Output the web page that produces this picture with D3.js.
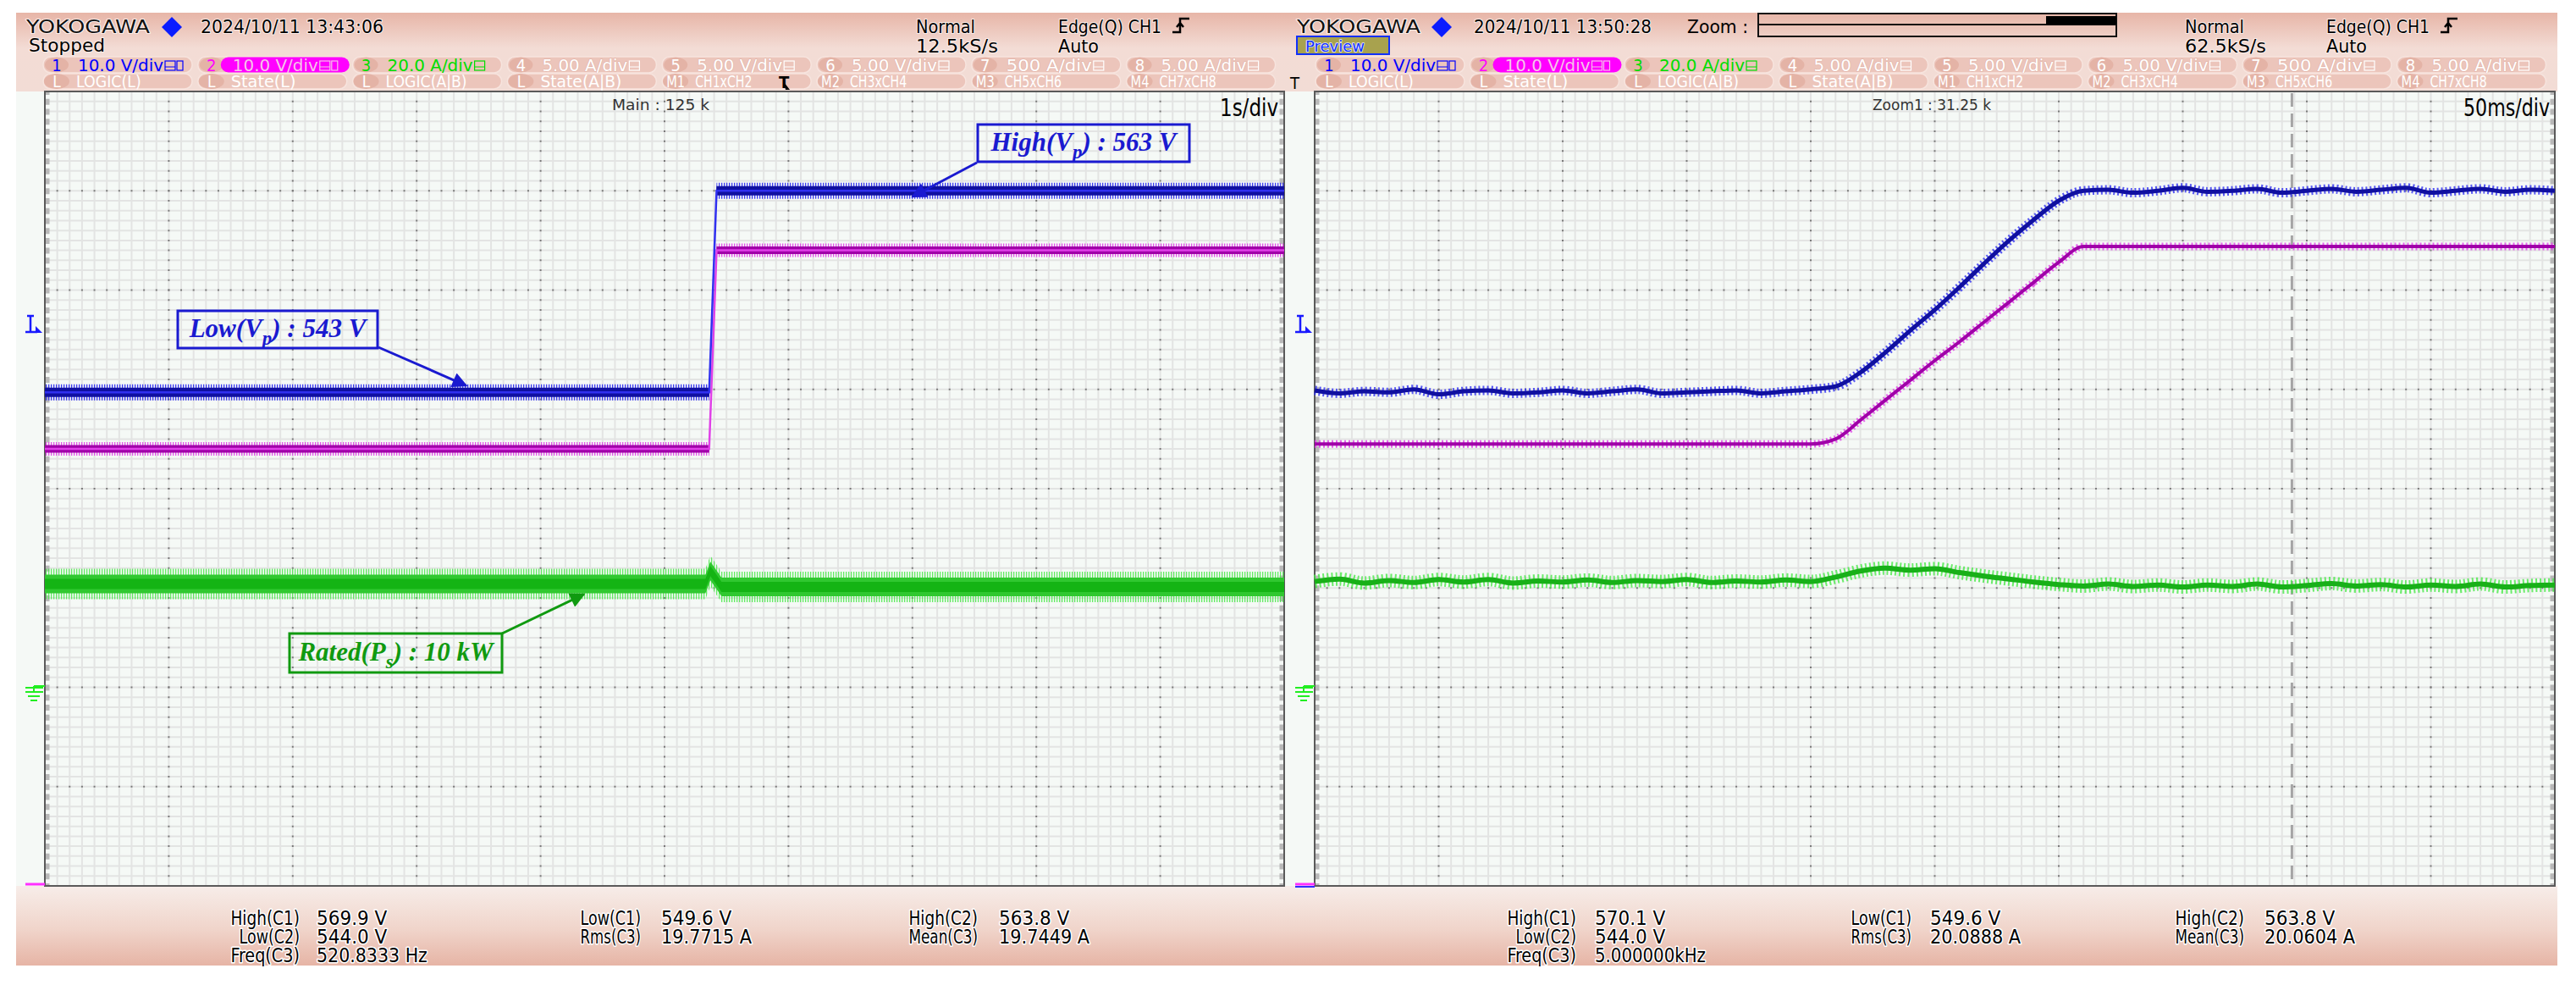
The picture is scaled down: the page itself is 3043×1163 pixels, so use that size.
<!DOCTYPE html>
<html><head><meta charset="utf-8">
<script src="https://cdn.jsdelivr.net/npm/d3@7"></script>
<style>body{margin:0;background:#fff}svg{display:block}</style>
</head><body><svg id="c" width="3043" height="1163"></svg>
<script>
// ---------------- DATA ----------------
// Left screen (Main, 1 s/div, 10 divisions)
const leftTime  = [0, 5.36, 5.42, 10];            // s
const leftCh1   = [543.0, 543.0, 563.3, 563.3];   // V  (blue, V_p)
const leftCh2   = [544.0, 544.0, 564.0, 564.0];   // V  (magenta)
const leftCh3Time = [0, 5.33, 5.37, 5.41, 5.46, 10];
const leftCh3   = [20.8, 20.8, 23.4, 22.0, 20.2, 20.2]; // A (green)

// Right screen (Zoom1, 50 ms/div)
const rightTime = [0,10,20,30,40,50,60,70,80,90,100,110,120,130,140,150,160,170,180,190,200,
  210,220,230,240,250,260,270,280,290,300,310,320,330,340,350,360,370,380,390,400,
  410,420,430,440,450,460,470,480,490,500]; // ms
const rightCh1 = [543.2,542.9,543.1,543.0,543.3,542.8,543.1,543.2,542.9,543.0,543.2,542.9,543.1,543.3,542.9,543.0,543.1,543.2,542.9,543.1,543.3,
  543.6,545.0,547.0,549.2,551.3,553.6,556.0,558.3,560.4,562.3,563.3,563.4,563.1,563.3,563.6,563.2,563.3,563.5,563.1,563.3,
  563.5,563.2,563.4,563.6,563.1,563.3,563.5,563.2,563.4,563.3];
const rightCh2 = [544.5,544.5,544.5,544.5,544.5,544.5,544.5,544.5,544.5,544.5,544.5,544.5,544.5,544.5,544.5,544.5,544.5,544.5,544.5,544.5,544.5,
  545.0,546.9,548.9,550.9,552.9,554.8,556.8,558.8,560.8,562.8,564.4,564.4,564.4,564.4,564.4,564.4,564.4,564.4,564.4,564.4,
  564.4,564.4,564.4,564.4,564.4,564.4,564.4,564.4,564.4,564.4];
const rightCh3 = [21.3,21.8,21.0,21.5,21.1,21.7,21.2,21.7,21.0,21.4,21.2,21.6,21.1,21.5,21.3,21.7,21.1,21.4,21.2,21.6,21.3,
  22.2,23.4,24.0,23.6,23.9,23.1,22.4,21.8,21.2,20.7,20.4,20.8,20.3,20.6,20.2,20.6,20.3,20.8,20.2,20.5,
  20.9,20.4,20.7,20.2,20.6,20.3,20.8,20.2,20.5,20.6];
const zoomCursor = 394; // ms

// Channel ranges (value at bottom / top of 8-division screen)
const ch1Range = [493.3, 573.3];  // 10 V/div
const ch2Range = [500.0, 580.0];  // 10 V/div
const ch3Range = [-40, 120];      // 20 A/div

// Header info
const headers = [
  {date:"2024/10/11 13:43:06", mode:"Normal", rate:"12.5kS/s", trig:"Edge(Q) CH1", trigMode:"Auto", state:"Stopped",
   label:"Main : 125 k", tdiv:"1s/div"},
  {date:"2024/10/11 13:50:28", mode:"Normal", rate:"62.5kS/s", trig:"Edge(Q) CH1", trigMode:"Auto", state:"Preview",
   label:"Zoom1 : 31.25 k", tdiv:"50ms/div"}
];
const tabRow1 = [["1","10.0 V/div"],["2","10.0 V/div"],["3","20.0 A/div"],["4","5.00 A/div"],
                 ["5","5.00 V/div"],["6","5.00 V/div"],["7"," 500 A/div"],["8","5.00 A/div"]];
const tabRow2 = [["L","LOGIC(L)"],["L","State(L)"],["L","LOGIC(A|B)"],["L","State(A|B)"],
                 ["M1","CH1xCH2"],["M2","CH3xCH4"],["M3","CH5xCH6"],["M4","CH7xCH8"]];
const measLeft = [[["High(C1)","569.9 V"],["Low(C1)","549.6 V"],["High(C2)","563.8 V"]],
                  [["Low(C2)","544.0 V"],["Rms(C3)","19.7715 A"],["Mean(C3)","19.7449 A"]],
                  [["Freq(C3)","520.8333 Hz"]]];
const measRight = [[["High(C1)","570.1 V"],["Low(C1)","549.6 V"],["High(C2)","563.8 V"]],
                   [["Low(C2)","544.0 V"],["Rms(C3)","20.0888 A"],["Mean(C3)","20.0604 A"]],
                   [["Freq(C3)","5.000000kHz"]]];
const annotations = [
  {pre:"Low(V", sub:"p", post:") : 543 V", ch:1, t:3.4, v:543.0},
  {pre:"High(V", sub:"p", post:") : 563 V", ch:1, t:7.0, v:563.3},
  {pre:"Rated(P", sub:"s", post:") : 10 kW", ch:3, t:4.35, v:20.8}
];

// ---------------- STYLE / LAYOUT ----------------
const COL = {blue:"#1010a0", blueL:"#3030f0", mag:"#a000a8", magL:"#e040e8", grn:"#14b414", grnL:"#48e848"};
const NARROW = "'Liberation Sans Narrow','DejaVu Sans Condensed','Roboto Condensed','Liberation Sans',Arial,sans-serif";
const SERIF = "'Liberation Serif','DejaVu Serif','Times New Roman',serif";
const panels = [
  {x0:19, x1:1521, gx0:53, gx1:1517},
  {x0:1521, x1:3021, gx0:1553, gx1:3018}
];
const GY0 = 108, GY1 = 1046, HY0 = 15, FY1 = 1140;

const svg = d3.select('#c');
const defs = svg.append('defs');
function grad(id, stops){
  const g = defs.append('linearGradient').attr('id',id).attr('x1',0).attr('y1',0).attr('x2',0).attr('y2',1);
  stops.forEach(s=>g.append('stop').attr('offset',s[0]).attr('stop-color',s[1]));
}
grad('hdr',[["0%","#e7b5a7"],["45%","#f3dcd5"],["100%","#f2dcd5"]]);
grad('ftr',[["0%","#f7ede9"],["55%","#f0d4ca"],["100%","#e6b4a5"]]);
function stripes(id,color){
  const p = defs.append('pattern').attr('id',id).attr('patternUnits','userSpaceOnUse').attr('width',3).attr('height',4);
  p.append('rect').attr('x',0).attr('y',0).attr('width',1.3).attr('height',4).attr('fill',color);
}
stripes('stB',COL.blueL); stripes('stM',COL.magL); stripes('stG',COL.grnL);
function arrowMarker(id,color){
  defs.append('marker').attr('id',id).attr('viewBox','0 0 10 10').attr('refX',9).attr('refY',5)
    .attr('markerWidth',7).attr('markerHeight',6).attr('markerUnits','strokeWidth').attr('orient','auto')
    .append('path').attr('d','M0,0 L10,5 L0,10 Z').attr('fill',color);
}
arrowMarker('arB','#1a1ad0'); arrowMarker('arG','#109a10');

function txt(g,x,y,s,o={}){
  const t = g.append('text').attr('x',x).attr('y',y).text(s)
    .attr('font-family',o.family||NARROW).attr('font-size',o.size||22)
    .attr('fill',o.fill||'#000').attr('text-anchor',o.anchor||'start');
  if(o.len) t.attr('textLength',o.len).attr('lengthAdjust','spacingAndGlyphs');
  if(o.halo) t.attr('stroke',o.halo).attr('stroke-width',o.hw||3).attr('paint-order','stroke').attr('stroke-linejoin','round');
  if(o.weight) t.attr('font-weight',o.weight);
  if(o.style) t.attr('font-style',o.style);
  return t;
}

// ---------------- PANELS ----------------
panels.forEach((P,pi)=>{
  const g = svg.append('g');
  const H = headers[pi];
  g.append('rect').attr('x',P.x0).attr('y',HY0).attr('width',P.x1-P.x0).attr('height',GY0-HY0).attr('fill','url(#hdr)');
  g.append('rect').attr('x',P.x0).attr('y',GY0).attr('width',P.x1-P.x0).attr('height',GY1-GY0).attr('fill','#f5f9f6');
  g.append('rect').attr('x',P.x0).attr('y',GY1).attr('width',P.x1-P.x0).attr('height',FY1-GY1).attr('fill','url(#ftr)');

  // header texts
  const HS = 22;
  txt(g, pi===0?31:1532, 39, "YOKOGAWA", {size:HS, len:146, fill:'#111', halo:'#fbeeea', hw:2});
  const dcx = pi===0?203:1703;
  g.append('path').attr('d',`M${dcx},20 L${dcx+12},32 L${dcx},44 L${dcx-12},32 Z`).attr('fill','#0a1cff');
  txt(g, pi===0?237:1741, 39, H.date, {size:HS, len:pi===0?216:210, halo:'#fbeeea', hw:2});
  if(pi===0){
    txt(g, 34, 61, H.state, {size:HS, len:90, halo:'#fbeeea', hw:2});
  } else {
    g.append('rect').attr('x',1532).attr('y',43).attr('width',109).attr('height',21).attr('fill','#a8a24e').attr('stroke','#1030ff').attr('stroke-width',2);
    txt(g, 1542, 61, H.state, {size:18, len:70, fill:'#1030ff', halo:'#e8e8ff', hw:1.5});
    txt(g, 1993, 39, "Zoom :", {size:HS, len:72});
    g.append('rect').attr('x',2077).attr('y',16).attr('width',423).attr('height',27).attr('fill','none').attr('stroke','#111').attr('stroke-width',2);
    g.append('line').attr('x1',2077).attr('x2',2500).attr('y1',29).attr('y2',29).attr('stroke','#111').attr('stroke-width',2);
    g.append('rect').attr('x',2417).attr('y',19).attr('width',83).attr('height',10).attr('fill','#000');
  }
  const mX = pi===0?1082:2581, tX = pi===0?1250:2748;
  txt(g, mX, 39, H.mode, {size:HS, len:70, halo:'#fbeeea', hw:2});
  txt(g, mX, 62, H.rate, {size:HS, len:pi===0?97:96, halo:'#fbeeea', hw:2});
  txt(g, tX, 39, H.trig, {size:HS, len:122, halo:'#fbeeea', hw:2});
  txt(g, tX, 62, H.trigMode, {size:HS, len:48, halo:'#fbeeea', hw:2});
  const ex = tX+135;
  g.append('path').attr('d',`M${ex},38 L${ex+9},38 L${ex+9},22 L${ex+20},22 M${ex+5},32 L${ex+9},27 L${ex+13},32`)
    .attr('fill','none').attr('stroke','#000').attr('stroke-width',2.5).attr('stroke-linejoin','miter');

  // channel tabs
  const tab0 = pi===0?51:1554, tabStep = pi===0?182.8:182.5;
  tabRow1.forEach((tb,i)=>{
    const x = tab0 + i*tabStep;
    g.append('rect').attr('x',x).attr('y',67).attr('width',176).attr('height',19).attr('rx',9)
      .attr('fill','#ecc5bb').attr('stroke','#f7e4de').attr('stroke-width',1.5);
    g.append('ellipse').attr('cx',x+16).attr('cy',76.5).attr('rx',14).attr('ry',9).attr('fill','#e4b3a6');
    let numC='#fff', txC='#fff';
    if(i===0){numC='#0000ff'; txC='#0000ff';}
    if(i===1){numC='#ff00ff'; txC='#f6c4ea';
      g.append('rect').attr('x',x+27).attr('y',67.5).attr('width',152).attr('height',18).attr('rx',9).attr('fill','#ff00ff');}
    if(i===2){numC='#00dd00'; txC='#00dd00';}
    txt(g, x+16, 84, tb[0], {size:20, fill:numC, anchor:'middle'});
    txt(g, x+41, 84, tb[1], {size:20, fill:txC, len:101, halo: i<3 ? null : '#e0b0a4', hw:1});
    const ic = i<=2 ? txC : '#fff';
    g.append('rect').attr('x',x+144).attr('y',72).attr('width',12).attr('height',11).attr('fill','none').attr('stroke',ic).attr('stroke-width',1.2);
    g.append('line').attr('x1',x+144).attr('x2',x+156).attr('y1',79).attr('y2',79).attr('stroke',ic).attr('stroke-width',1);
    if(i<2) g.append('rect').attr('x',x+158).attr('y',72).attr('width',7).attr('height',11).attr('fill','none').attr('stroke',ic).attr('stroke-width',1.2);
  });
  tabRow2.forEach((tb,i)=>{
    const x = tab0 + i*tabStep;
    g.append('rect').attr('x',x).attr('y',87).attr('width',176).attr('height',18).attr('rx',9)
      .attr('fill','#ecc5bb').attr('stroke','#f7e4de').attr('stroke-width',1.5);
    g.append('ellipse').attr('cx',x+16).attr('cy',96).attr('rx',15).attr('ry',9).attr('fill','#e4b3a6');
    txt(g, x+16, 103, tb[0], {size:19, fill:'#fff', anchor:'middle', len: tb[0].length>1?22:null});
    txt(g, x+39, 103, tb[1], {size:19, fill:'#fff', len: tb[1].length*9.6});
  });
  if(pi===0){
    txt(g, 920, 104, "T", {size:20, weight:'bold'});
    g.append('path').attr('d','M926,97 L933,106 L928,106 Z').attr('fill','#000');
  } else {
    txt(g, 1524, 105, "T", {size:20});
  }

  // ---------- grid ----------
  const X = pi===0 ? d3.scaleLinear().domain([0,10]).range([P.gx0,P.gx1])
                   : d3.scaleLinear().domain([0,500]).range([P.gx0,P.gx1]);
  const div = pi===0 ? 1 : 50;
  const Yd = d3.scaleLinear().domain([0,8]).range([GY1,GY0]);
  const grid = g.append('g');
  const minorX = d3.range(0,101).map(i=>i*div/10);
  const minorY = d3.range(0,81).map(i=>i/10);
  grid.selectAll('.vx').data(minorX).join('line').attr('x1',d=>X(d)).attr('x2',d=>X(d)).attr('y1',GY0).attr('y2',GY1)
    .attr('stroke','#e3e4e3').attr('stroke-width',2);
  grid.selectAll('.hy').data(minorY).join('line').attr('x1',P.gx0).attr('x2',P.gx1).attr('y1',d=>Yd(d)).attr('y2',d=>Yd(d))
    .attr('stroke','#e3e4e3').attr('stroke-width',2);
  const sx = (P.gx1-P.gx0)/100, sy = (GY1-GY0)/80;
  grid.selectAll('.mx').data(d3.range(1,10).map(i=>i*div)).join('line').attr('x1',d=>X(d)).attr('x2',d=>X(d)).attr('y1',GY0-1).attr('y2',GY1)
    .attr('stroke','#7a7a7a').attr('stroke-width',2).attr('stroke-dasharray',`2,${sy-2}`);
  grid.selectAll('.my').data(d3.range(1,8)).join('line').attr('x1',P.gx0-1).attr('x2',P.gx1).attr('y1',d=>Yd(d)).attr('y2',d=>Yd(d))
    .attr('stroke','#7a7a7a').attr('stroke-width',2).attr('stroke-dasharray',`2,${sx-2}`);
  [[P.gx0+3,GY0,P.gx0+3,GY1],[P.gx1-3,GY0,P.gx1-3,GY1]].forEach(l=>{
    grid.append('line').attr('x1',l[0]).attr('y1',l[1]).attr('x2',l[2]).attr('y2',l[3])
      .attr('stroke','#b9b9b9').attr('stroke-width',5).attr('stroke-dasharray',`7,${sy-7}`).attr('stroke-dashoffset',3);
  });
  grid.append('rect').attr('x',P.gx0).attr('y',GY0).attr('width',P.gx1-P.gx0).attr('height',GY1-GY0)
    .attr('fill','none').attr('stroke','#5a5a5a').attr('stroke-width',2);

  txt(g, pi===0?838:2352, 130, H.label, {size:18, fill:'#333', anchor:'end', len:pi===0?115:140});
  txt(g, pi===0?1510:3012, 137, H.tdiv, {size:28, anchor:'end', len:pi===0?69:102});

  // left-margin markers
  const mx = P.gx0;
  g.append('path').attr('d',`M${mx-21},373 L${mx-13},373 M${mx-17},373 L${mx-17},392 M${mx-23},392 L${mx-9},392`)
    .attr('stroke','#1a1aff').attr('stroke-width',2.5).attr('fill','none');
  g.append('path').attr('d',`M${mx-11},385 L${mx-3},393 L${mx-11},393 Z`).attr('fill','#1a1aff');
  g.append('path').attr('d',`M${mx-23},812 L${mx-2},812 M${mx-13},810 L${mx},810 M${mx-13},810 L${mx-13},817 M${mx-23},817 L${mx-2},817 M${mx-20},822 L${mx-6},822 M${mx-17},827 L${mx-9},827`)
    .attr('stroke','#22ee22').attr('stroke-width',2).attr('fill','none');
  g.append('line').attr('x1',mx-23).attr('x2',mx).attr('y1',GY1-2).attr('y2',GY1-2).attr('stroke','#ff30ff').attr('stroke-width',3);
  if(pi===1){
    g.append('line').attr('x1',mx-23).attr('x2',mx).attr('y1',GY1+1).attr('y2',GY1+1).attr('stroke','#3030ff').attr('stroke-width',2);
    g.append('line').attr('x1',X(zoomCursor)).attr('x2',X(zoomCursor)).attr('y1',GY0+2).attr('y2',GY1)
      .attr('stroke','#a5a5a5').attr('stroke-width',3).attr('stroke-dasharray','16,8');
  }

  // ---------- traces ----------
  const y1 = d3.scaleLinear().domain(ch1Range).range([GY1,GY0]);
  const y2 = d3.scaleLinear().domain(ch2Range).range([GY1,GY0]);
  const y3 = d3.scaleLinear().domain(ch3Range).range([GY1,GY0]);
  const tr = g.append('g');
  if(pi===0){
    const band = (tArr,vArr,ys,hw,fill,op)=>{
      const pts = tArr.map((t,i)=>[t,vArr[i]]);
      tr.append('path').attr('fill',fill).attr('opacity',op||1)
        .attr('d', d3.area().x(d=>X(d[0])).y0(d=>ys(d[1])-hw).y1(d=>ys(d[1])+hw)(pts));
    };
    const lineP = (tArr,vArr,ys,w,c)=>{
      const pts = tArr.map((t,i)=>[t,vArr[i]]);
      tr.append('path').attr('fill','none').attr('stroke',c).attr('stroke-width',w)
        .attr('d', d3.line().x(d=>X(d[0])).y(d=>ys(d[1]))(pts));
    };
    band(leftCh3Time,leftCh3,y3,18,'url(#stG)',0.85);
    band(leftCh3Time,leftCh3,y3,11,'#30c830');
    band(leftCh3Time,leftCh3,y3,6,COL.grn);
    lineP(leftCh3Time,leftCh3,y3,3,COL.grn);
    band(leftTime,leftCh2,y2,8,'url(#stM)',0.9);
    band(leftTime,leftCh2,y2,4.5,COL.mag);
    lineP(leftTime,leftCh2,y2,2.5,COL.magL);
    band(leftTime,leftCh1,y1,9.5,'url(#stB)',0.95);
    band(leftTime,leftCh1,y1,5.5,COL.blue);
    lineP(leftTime,leftCh1,y1,2.5,COL.blueL);
  } else {
    const lineR = (vArr,ys,c,cl,wOut,wIn)=>{
      const pts = rightTime.map((t,i)=>[t,vArr[i]]);
      const ln = d3.line().x(d=>X(d[0])).y(d=>ys(d[1])).curve(d3.curveMonotoneX);
      tr.append('path').attr('d',ln(pts)).attr('fill','none').attr('stroke',cl).attr('stroke-width',wOut)
        .attr('stroke-dasharray','2,3').attr('opacity',0.8);
      tr.append('path').attr('d',ln(pts)).attr('fill','none').attr('stroke',c).attr('stroke-width',wIn);
    };
    lineR(rightCh3,y3,'#18b018',COL.grnL,16,6);
    lineR(rightCh2,y2,COL.mag,COL.magL,9,4);
    lineR(rightCh1,y1,COL.blue,COL.blueL,11,5);
  }

  // ---------- annotations (left only) ----------
  if(pi===0){
    const boxes = [
      {x:210,y:367,w:236,h:44, ax0:447, ay0:410, c:'#1a1ad0', m:'arB'},
      {x:1155,y:147,w:250,h:44, ax0:1154, ay0:192, c:'#1a1ad0', m:'arB'},
      {x:342,y:748,w:251,h:46, ax0:593, ay0:748, c:'#109a10', m:'arG'}
    ];
    annotations.forEach((a,i)=>{
      const b = boxes[i];
      const ys = a.ch===1 ? y1 : y3;
      const tipY = a.ch===1 ? ys(a.v) + (i===0?-8:7) : ys(a.v)+12;
      g.append('rect').attr('x',b.x).attr('y',b.y).attr('width',b.w).attr('height',b.h)
        .attr('fill','none').attr('stroke',b.c).attr('stroke-width',3);
      const t = g.append('text').attr('x',b.x+b.w/2).attr('y',b.y+b.h/2+9).attr('text-anchor','middle')
        .attr('font-family',SERIF).attr('font-style','italic').attr('font-weight','bold').attr('font-size',31).attr('fill',b.c);
      t.append('tspan').text(a.pre);
      t.append('tspan').text(a.sub).attr('dy',9).attr('font-size',23);
      t.append('tspan').text(a.post).attr('dy',-9);
      g.append('line').attr('x1',b.ax0).attr('y1',b.ay0).attr('x2',X(a.t)).attr('y2',tipY)
        .attr('stroke',b.c).attr('stroke-width',3).attr('marker-end',`url(#${b.m})`);
    });
  }

  // ---------- measurement footer ----------
  const meas = pi===0 ? measLeft : measRight;
  const labR = pi===0 ? [354,757,1155] : [1862,2258,2651];
  const valL = pi===0 ? [374,781,1180] : [1884,2280,2675];
  const rowY = [1092,1114,1136];
  meas.forEach((row,ri)=>row.forEach((m,ci)=>{
    txt(g, labR[ci], rowY[ri], m[0], {size:23, anchor:'end', len:m[0].length*10.2, halo:'#fff', hw:3});
    txt(g, valL[ci], rowY[ri], m[1], {size:23, len:m[1].length*11.9, halo:'#fff', hw:3});
  }));
});
</script></body></html>
